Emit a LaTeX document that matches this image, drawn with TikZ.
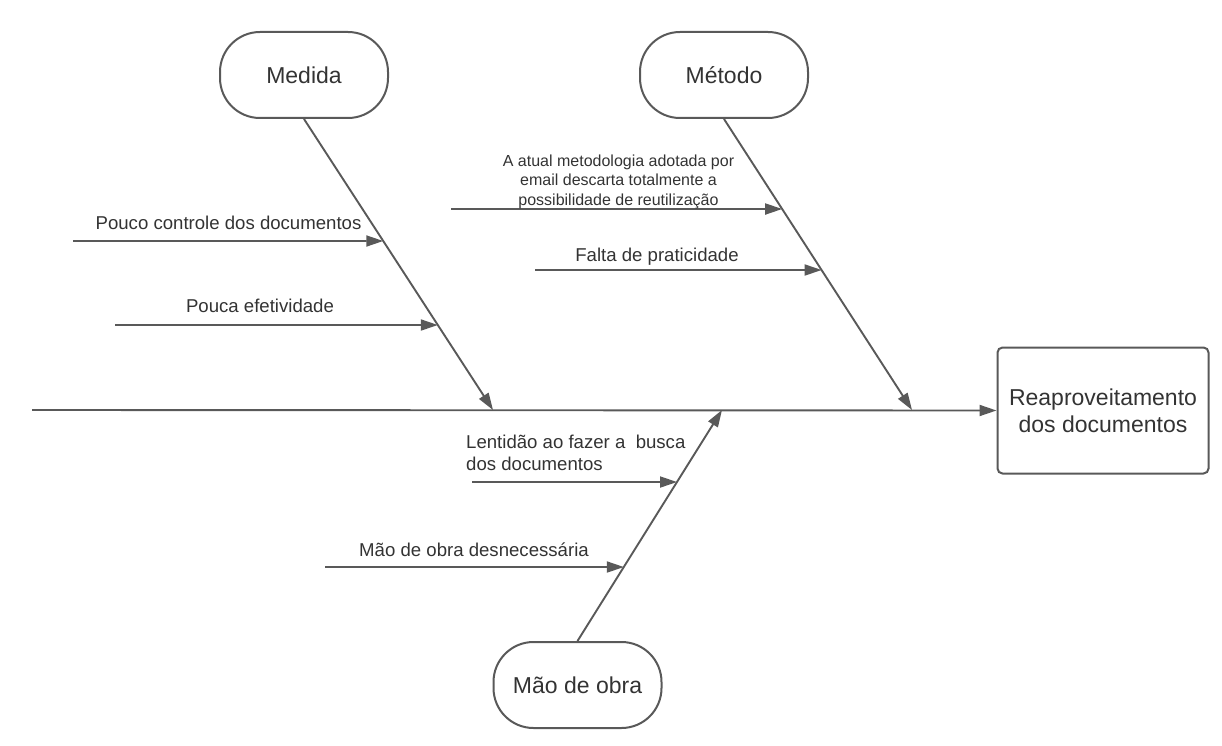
\documentclass[tikz,border=0pt]{standalone}
\usepackage{fontspec}
\setmainfont{Liberation Sans}
\usetikzlibrary{arrows.meta}
\definecolor{linegray}{HTML}{595959}
\definecolor{textgray}{HTML}{333333}
\tikzset{
  cause/.style={draw=linegray,line width=2pt,rounded corners=40pt,minimum width=168pt,minimum height=86pt,
    font=\fontsize{23}{27}\selectfont,text=textgray},
  effect/.style={draw=linegray,line width=2pt,rounded corners=5pt,minimum width=211pt,minimum height=126pt,
    align=center,font=\fontsize{23}{27}\selectfont,text=textgray},
  bone/.style={draw=linegray,line width=1.9pt,-{Triangle[length=17pt,width=11pt]}},
  note/.style={font=\fontsize{18.6}{19.5}\selectfont,text=textgray,align=center,anchor=base,inner sep=0pt}
}

\begin{document}
\begin{tikzpicture}[x=1pt,y=-1pt]
  \useasboundingbox (0,0) rectangle (1222,746);
  % categorias e efeito
  \node[cause] (medida) at (304,75) {Medida};
  \node[cause] (metodo) at (724,75) {Método};
  \node[cause] (mao) at (577.5,685) {Mão de obra};
  \node[effect] (efeito) at (1103,410.5) {Reaproveitamento\\dos documentos};
  % espinha principal
  \coordinate (cauda) at (32,410);
  \coordinate (m1) at (493,410);
  \coordinate (m2) at (912,410);
  \coordinate (m3) at (722,410);
  \draw[bone] (cauda) -- (efeito.west);
  \draw[bone] (medida.south) -- (m1);
  \draw[bone] (metodo.south) -- (m2);
  \draw[bone] (mao.north) -- (m3);
  % causas
  \coordinate (c1) at (73,241);
  \coordinate (c2) at (115,325);
  \coordinate (c3) at (451,209);
  \coordinate (c4) at (535,270);
  \coordinate (c5) at (472,482);
  \coordinate (c6) at (325,567);
  \draw[bone] (c1) -- (intersection of medida.south--m1 and c1--400,241);
  \draw[bone] (c2) -- (intersection of medida.south--m1 and c2--400,325);
  \draw[bone] (c3) -- (intersection of metodo.south--m2 and c3--800,209);
  \draw[bone] (c4) -- (intersection of metodo.south--m2 and c4--800,270);
  \draw[bone] (c5) -- (intersection of mao.north--m3 and c5--700,482);
  \draw[bone] (c6) -- (intersection of mao.north--m3 and c6--700,567);
  % textos
  \node[note] (t1) at (228.5,229) {Pouco controle dos documentos};
  \node[note] (t2) at (260,312) {Pouca efetividade};
  \node[note,font=\fontsize{16}{19.5}\selectfont] (t3) at (618.5,205)
    {A atual metodologia adotada por\\email descarta totalmente a\\possibilidade de reutilização};
  \node[note] (t4) at (657,261) {Falta de praticidade};
  \node[note,align=left,anchor=base west,font=\fontsize{18.6}{21.7}\selectfont] (t5) at (466,470)
    {Lentidão ao fazer a\ \ busca\\dos documentos};
  \node[note] (t6) at (474,556) {Mão de obra desnecessária};
\end{tikzpicture}
\end{document}
